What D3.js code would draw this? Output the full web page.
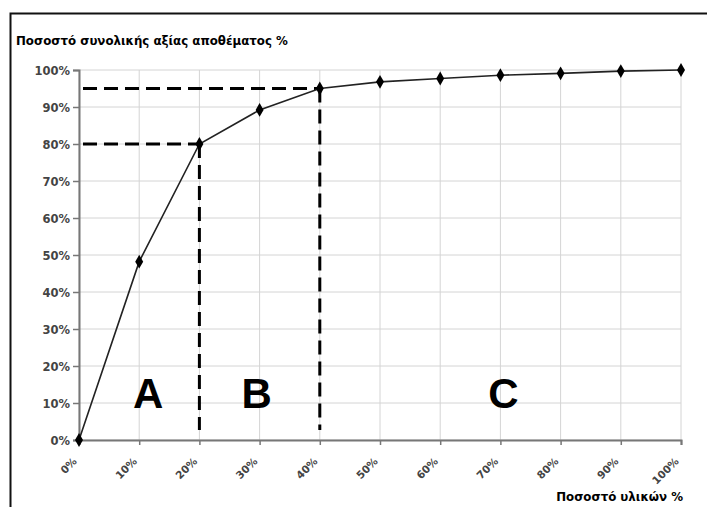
<!DOCTYPE html>
<html><head><meta charset="utf-8">
<script src="https://cdn.jsdelivr.net/npm/d3@7"></script>
<style>body{margin:0;background:#fff}svg{display:block}</style>
</head><body>
<svg id="c" width="707" height="507"></svg>
<script>
const xValues = [0,10,20,30,40,50,60,70,80,90,100];
const yValues = [0,48.2,80,89.2,95,96.8,97.7,98.6,99.1,99.7,100];
const yTicks = [0,10,20,30,40,50,60,70,80,90,100];
const xTicks = [0,10,20,30,40,50,60,70,80,90,100];
const classLabels = ["A","B","C"];
const classCenters = [11.5,29.5,70.5];
const cutoffs = [{x:20,y:80},{x:40,y:95}];
const yTitle = "Ποσοστό συνολικής αξίας αποθέματος %";
const xTitle = "Ποσοστό υλικών %";

const svg = d3.select("#c");
const x = d3.scaleLinear().domain([0,100]).range([79,681]);
const y = d3.scaleLinear().domain([0,100]).range([440,70]);
const font = "Arial, 'Liberation Sans', sans-serif";
const tickFont = "'DejaVu Sans', Verdana, sans-serif";

// frame
svg.append("path").attr("d","M10.5,520 V13.5 H720").attr("fill","none").attr("stroke","#111").attr("stroke-width",2);

// grid
svg.append("g").selectAll("line").data(yTicks).join("line")
  .attr("x1",x(0)).attr("x2",x(100)).attr("y1",d=>y(d)).attr("y2",d=>y(d))
  .attr("stroke","#d4d4d4").attr("stroke-width",1);
svg.append("g").selectAll("line").data(xTicks).join("line")
  .attr("x1",d=>x(d)).attr("x2",d=>x(d)).attr("y1",y(0)).attr("y2",y(100))
  .attr("stroke","#d4d4d4").attr("stroke-width",1);

// axes
const yAxis = svg.append("g").attr("transform",`translate(${x(0)},0)`)
  .call(d3.axisLeft(y).tickValues(yTicks).tickFormat(d=>d+"%").tickSize(6).tickPadding(3));
const xAxis = svg.append("g").attr("transform",`translate(0,${y(0)})`)
  .call(d3.axisBottom(x).tickValues(xTicks).tickFormat(d=>d+"%").tickSize(5).tickPadding(4));
[yAxis,xAxis].forEach(a=>{
  a.select(".domain").attr("stroke","#777").attr("stroke-width",2);
  a.selectAll(".tick line").attr("stroke","#777").attr("stroke-width",1.5);
  a.selectAll("text").attr("fill","#444").style("font-family",tickFont).style("font-weight","bold");
});
yAxis.selectAll("text").style("font-size","11.5px").attr("dy","0.35em");
xAxis.selectAll("text").style("font-size","10.5px").attr("text-anchor","end").attr("y",0).attr("dy","0").attr("dx","0")
  .attr("transform","translate(-2,22) rotate(-45)");

// dashed cutoff lines
cutoffs.forEach(c=>{
  svg.append("line").attr("x1",x(0)+4).attr("x2",x(c.x)).attr("y1",y(c.y)).attr("y2",y(c.y))
    .attr("stroke","#000").attr("stroke-width",3).attr("stroke-dasharray","14,7");
  svg.append("line").attr("x1",x(c.x)).attr("x2",x(c.x)).attr("y1",y(c.y)).attr("y2",y(0)-10)
    .attr("stroke","#000").attr("stroke-width",3).attr("stroke-dasharray","14,7");
});

// curve
const pts = xValues.map((v,i)=>[v,yValues[i]]);
svg.append("path").datum(pts)
  .attr("d",d3.line().x(d=>x(d[0])).y(d=>y(d[1])))
  .attr("fill","none").attr("stroke","#222").attr("stroke-width",1.6);
svg.append("g").selectAll("path").data(pts).join("path")
  .attr("d",d3.symbol(d3.symbolDiamond,55))
  .attr("transform",d=>`translate(${x(d[0])},${y(d[1])})`)
  .attr("fill","#000");

// class letters
svg.append("g").selectAll("text").data(classLabels).join("text")
  .attr("x",(d,i)=>x(classCenters[i])).attr("y",408)
  .attr("text-anchor","middle").style("font-family",font).style("font-weight","bold")
  .style("font-size","42px").attr("fill","#000").text(d=>d);

// titles
svg.append("text").attr("x",16).attr("y",45).style("font-family",tickFont)
  .style("font-weight","bold").style("font-size","11.8px").attr("fill","#000").text(yTitle);
svg.append("text").attr("x",683).attr("y",501).attr("text-anchor","end").style("font-family",tickFont)
  .style("font-weight","bold").style("font-size","11.8px").attr("fill","#000").text(xTitle);
</script>
</body></html>
